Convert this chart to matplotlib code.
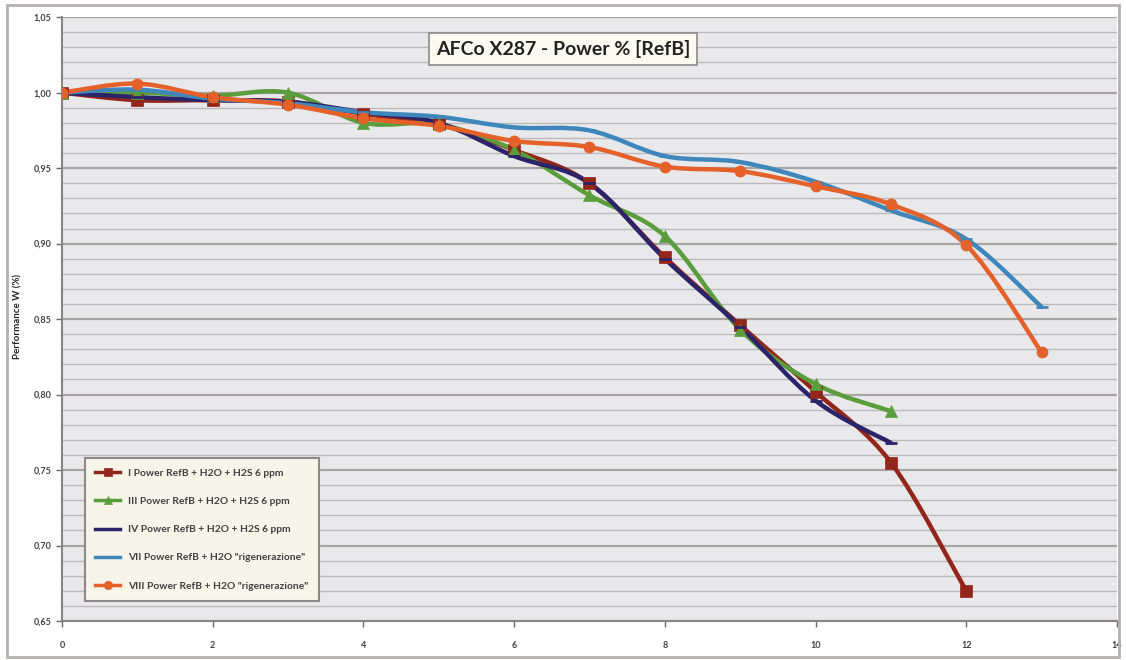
import matplotlib
matplotlib.use("Agg")
import matplotlib.pyplot as plt
from matplotlib.path import Path
from matplotlib.patches import PathPatch
from matplotlib.ticker import MultipleLocator, FuncFormatter

# dati
giorni_I = [0, 1, 2, 3, 4, 5, 6, 7, 8, 9, 10, 11, 12]
serie_I = [1.000, 0.995, 0.995, 0.994, 0.986, 0.979, 0.962, 0.940, 0.891, 0.846, 0.802, 0.755, 0.670]

giorni_III = [0, 1, 2, 3, 4, 5, 6, 7, 8, 9, 10, 11]
serie_III = [1.000, 1.000, 0.998, 1.000, 0.980, 0.979, 0.962, 0.932, 0.905, 0.843, 0.807, 0.789]

giorni_IV = [0, 1, 2, 3, 4, 5, 6, 7, 8, 9, 10, 11]
serie_IV = [1.000, 0.997, 0.995, 0.994, 0.987, 0.980, 0.958, 0.940, 0.890, 0.845, 0.796, 0.768]

giorni_VII = [0, 1, 2, 3, 4, 5, 6, 7, 8, 9, 10, 11, 12, 13]
serie_VII = [1.000, 1.002, 0.996, 0.993, 0.987, 0.984, 0.977, 0.975, 0.958, 0.954, 0.941, 0.922, 0.903, 0.858]

giorni_VIII = [0, 1, 2, 3, 4, 5, 6, 7, 8, 9, 10, 11, 12, 13]
serie_VIII = [1.000, 1.006, 0.997, 0.992, 0.983, 0.978, 0.968, 0.964, 0.951, 0.948, 0.938, 0.926, 0.899, 0.828]

etichette = ['I Power RefB + H2O + H2S 6 ppm',
             'III Power RefB + H2O + H2S 6 ppm',
             'IV Power RefB + H2O + H2S 6 ppm',
             'VII Power RefB + H2O "rigenerazione"',
             'VIII Power RefB + H2O "rigenerazione"']

plt.rcParams['font.family'] = ['Lato', 'DejaVu Sans']


def curva_liscia(x, y):
    # linea "smussata" tipo Excel: Bezier di Catmull-Rom tra i punti
    verts = [(x[0], y[0])]
    codes = [Path.MOVETO]
    n = len(x)
    for i in range(n - 1):
        x0, y0 = (x[i - 1], y[i - 1]) if i > 0 else (x[i], y[i])
        x3, y3 = (x[i + 2], y[i + 2]) if i + 2 < n else (x[i + 1], y[i + 1])
        c1 = (x[i] + (x[i + 1] - x0) / 6, y[i] + (y[i + 1] - y0) / 6)
        c2 = (x[i + 1] - (x3 - x[i]) / 6, y[i + 1] - (y3 - y[i]) / 6)
        verts += [c1, c2, (x[i + 1], y[i + 1])]
        codes += [Path.CURVE4] * 3
    return Path(verts, codes)


fig = plt.figure(figsize=(11.26, 6.6), dpi=100, facecolor='white')
ax = fig.add_axes([0.055, 0.059, 0.937, 0.915])
ax.set_facecolor('#e9e9eb')

# cornice esterna
fig.patches.append(plt.Rectangle((0.006, 0.004), 0.988, 0.988, transform=fig.transFigure,
                                 fill=False, edgecolor='#b5b0ae', linewidth=2))

serie = [
    (giorni_I, serie_I, '#93261b', 's', 8),
    (giorni_III, serie_III, '#5b9c3c', '^', 8),
    (giorni_IV, serie_IV, '#2c2468', '_', 8),
    (giorni_VII, serie_VII, '#3f86ba', '_', 8),
    (giorni_VIII, serie_VIII, '#e5612a', 'o', 8),
]

for (gx, gy, col, mk, ms), lab in zip(serie, etichette):
    ax.add_patch(PathPatch(curva_liscia(gx, gy), facecolor='none', edgecolor=col,
                           linewidth=3.2, capstyle='round', zorder=3))
    ax.plot(gx, gy, linestyle='none', marker=mk, markersize=ms, color=col,
            markeredgewidth=2 if mk == '_' else 0.5, zorder=4)
    ax.plot([], [], color=col, linewidth=2.5, marker=mk, markersize=6,
            markeredgewidth=2 if mk == '_' else 0.5, label=lab)

ax.set_xlim(0, 14)
ax.set_ylim(0.65, 1.05)
ax.xaxis.set_major_locator(MultipleLocator(2))
ax.yaxis.set_major_locator(MultipleLocator(0.05))
ax.yaxis.set_minor_locator(MultipleLocator(0.01))
ax.yaxis.set_major_formatter(FuncFormatter(lambda v, p: f'{v:.2f}'.replace('.', ',')))
ax.xaxis.set_major_formatter(FuncFormatter(lambda v, p: f'{v:.0f}'))

ax.grid(True, axis='y', which='major', color='#a9a5a4', linewidth=1.6, zorder=0)
ax.grid(True, axis='y', which='minor', color='#bdb9b8', linewidth=1.0, zorder=0)
ax.set_axisbelow(True)

for s in ['top', 'right']:
    ax.spines[s].set_visible(False)
ax.spines['left'].set_color('#8a8585')
ax.spines['bottom'].set_color('#8a8585')
ax.spines['left'].set_linewidth(1.5)
ax.spines['bottom'].set_linewidth(1.5)

ax.tick_params(axis='both', which='major', labelsize=6.5, colors='#6a6666',
               labelcolor='#444040', length=4, width=1)
ax.tick_params(axis='y', which='minor', length=0)
ax.tick_params(axis='x', pad=10)
for t in ax.get_xticklabels() + ax.get_yticklabels():
    t.set_fontweight('bold')

fig.text(0.016, 0.52, 'Performance W (%)', rotation=90, fontsize=7, fontweight='bold',
         color='#222222', ha='center', va='center')

fig.text(0.5, 0.926, 'AFCo X287 - Power % [RefB]', fontsize=14, fontweight='bold',
         color='#222222', ha='center', va='center',
         bbox=dict(boxstyle='square,pad=0.35', facecolor='#fbfaf0', edgecolor='#8e8a88', linewidth=1.2))

leg = ax.legend(loc='lower left', bbox_to_anchor=(0.017, 0.025), fontsize=7.4,
                labelspacing=1.85, handlelength=2.4, borderpad=1.0, frameon=True,
                fancybox=False, facecolor='#f7f5ea', edgecolor='#8e8a88', framealpha=1)
leg.get_frame().set_linewidth(1.5)
for t in leg.get_texts():
    t.set_color('#444040')
    t.set_fontweight('bold')

fig.savefig('out.png', dpi=100, facecolor='white')
